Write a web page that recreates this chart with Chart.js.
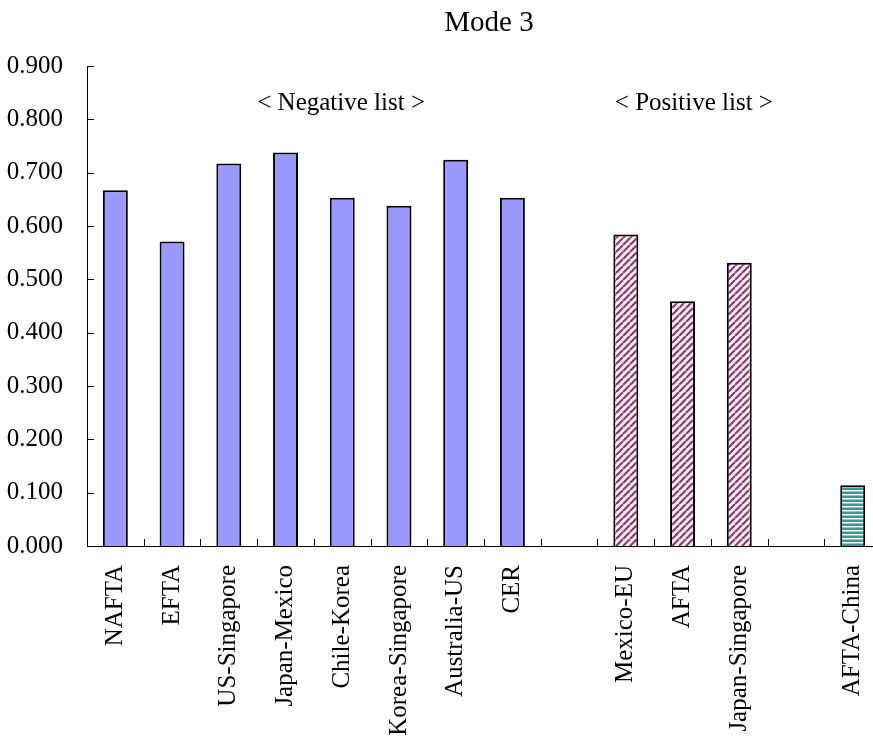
<!DOCTYPE html>
<html>
<head>
<meta charset="utf-8">
<script src="https://cdn.jsdelivr.net/npm/chart.js@4.4.0/dist/chart.umd.min.js"></script>
<style>
  html, body { margin: 0; padding: 0; background: #fff; overflow: hidden; }
  #wrap { width: 873px; height: 744px; overflow: hidden; }
  #wrap canvas { display: block; }
</style>
</head>
<body>
<div id="wrap"><canvas id="grafico" width="894" height="744"></canvas></div>
<script>
// Datos (las cadenas vacias son los huecos entre grupos)
const categorias = ['NAFTA', 'EFTA', 'US-Singapore', 'Japan-Mexico', 'Chile-Korea', 'Korea-Singapore',
  'Australia-US', 'CER', '', 'Mexico-EU', 'AFTA', 'Japan-Singapore', '', 'AFTA-China'];
const listaNegativa = [0.667, 0.571, 0.717, 0.738, 0.653, 0.638, 0.724, 0.653, null, null, null, null, null, null];
const listaPositiva = [null, null, null, null, null, null, null, null, null, 0.584, 0.459, 0.531, null, null];
const otros = [null, null, null, null, null, null, null, null, null, null, null, null, null, 0.114];
const ticksY = [0, 0.1, 0.2, 0.3, 0.4, 0.5, 0.6, 0.7, 0.8, 0.9];
const titulo = 'Mode 3';
const notas = ['< Negative list >', '< Positive list >'];

const fuente = '"Liberation Serif", "Times New Roman", serif';
Chart.defaults.font.family = fuente;
Chart.defaults.color = '#000';

// Tramas
function tramaDiagonal() {
  const c = document.createElement('canvas');
  c.width = 7; c.height = 7;
  const g = c.getContext('2d');
  g.fillStyle = '#fdf3f8';
  g.fillRect(0, 0, 7, 7);
  g.strokeStyle = '#993366';
  g.lineWidth = 2.2;
  g.beginPath();
  for (let k = -7; k <= 14; k += 7) {
    g.moveTo(k, 7); g.lineTo(k + 7, 0);
  }
  g.stroke();
  return g.createPattern(c, 'repeat');
}
function tramaHorizontal() {
  const c = document.createElement('canvas');
  c.width = 4; c.height = 4;
  const g = c.getContext('2d');
  g.fillStyle = '#339999'; g.fillRect(0, 0, 4, 2);
  g.fillStyle = '#ffffff'; g.fillRect(0, 2, 4, 1);
  g.fillStyle = '#8fc9c6'; g.fillRect(0, 3, 4, 1);
  return g.createPattern(c, 'repeat');
}

// Marcas hacia dentro, titulo y notas
const extras = {
  id: 'extras',
  afterDatasetsDraw(chart) {
    const { ctx, chartArea: a, scales: { x, y } } = chart;
    ctx.save();
    ctx.strokeStyle = '#000';
    ctx.lineWidth = 1;
    ctx.beginPath();
    ticksY.forEach(v => {
      const py = Math.round(y.getPixelForValue(v)) + 0.5;
      ctx.moveTo(a.left, py); ctx.lineTo(a.left + 7, py);
    });
    for (let i = 1; i < categorias.length; i++) {
      const px = Math.round((x.getPixelForValue(i - 1) + x.getPixelForValue(i)) / 2) + 0.5;
      ctx.moveTo(px, a.bottom); ctx.lineTo(px, a.bottom - 7);
    }
    ctx.stroke();

    ctx.fillStyle = '#000';
    ctx.textAlign = 'center';
    ctx.textBaseline = 'middle';
    ctx.font = '29px ' + fuente;
    ctx.fillText(titulo, 489, 23);
    ctx.font = '25px ' + fuente;
    ctx.fillText(notas[0], x.getPixelForValue(3.98), y.getPixelForValue(0.83));
    ctx.fillText(notas[1], x.getPixelForValue(10.2), y.getPixelForValue(0.83));
    ctx.restore();
  }
};

const ctxGrafico = document.getElementById('grafico').getContext('2d');
const grafico = new Chart(ctxGrafico, {
  type: 'bar',
  data: {
    labels: categorias,
    datasets: [
      { label: 'Negative list', data: listaNegativa, backgroundColor: '#9999ff', borderColor: '#000', borderWidth: 2 },
      { label: 'Positive list', data: listaPositiva, backgroundColor: tramaDiagonal(), borderColor: '#000', borderWidth: 2 },
      { label: 'Other', data: otros, backgroundColor: tramaHorizontal(), borderColor: '#000', borderWidth: 2 }
    ]
  },
  options: {
    responsive: false,
    animation: false,
    grouped: false,
    categoryPercentage: 1,
    barPercentage: 0.44,
    layout: { padding: { top: 66, right: 8, left: 0, bottom: 0 } },
    plugins: {
      legend: { display: false },
      title: { display: false },
      tooltip: { enabled: false }
    },
    scales: {
      x: {
        grid: { display: false },
        border: { display: true, color: '#000', width: 1 },
        ticks: { autoSkip: false, minRotation: 90, maxRotation: 90, padding: 11, font: { size: 25 } },
        afterFit(scale) { scale.height = 198; }
      },
      y: {
        min: 0,
        max: 0.9,
        grid: { display: false },
        border: { display: true, color: '#000', width: 1 },
        afterBuildTicks(scale) { scale.ticks = ticksY.map(v => ({ value: v })); },
        ticks: { padding: 16, font: { size: 25 }, callback: v => v.toFixed(3) },
        afterFit(scale) { scale.width = 87; }
      }
    }
  },
  plugins: [extras]
});
</script>
</body>
</html>
